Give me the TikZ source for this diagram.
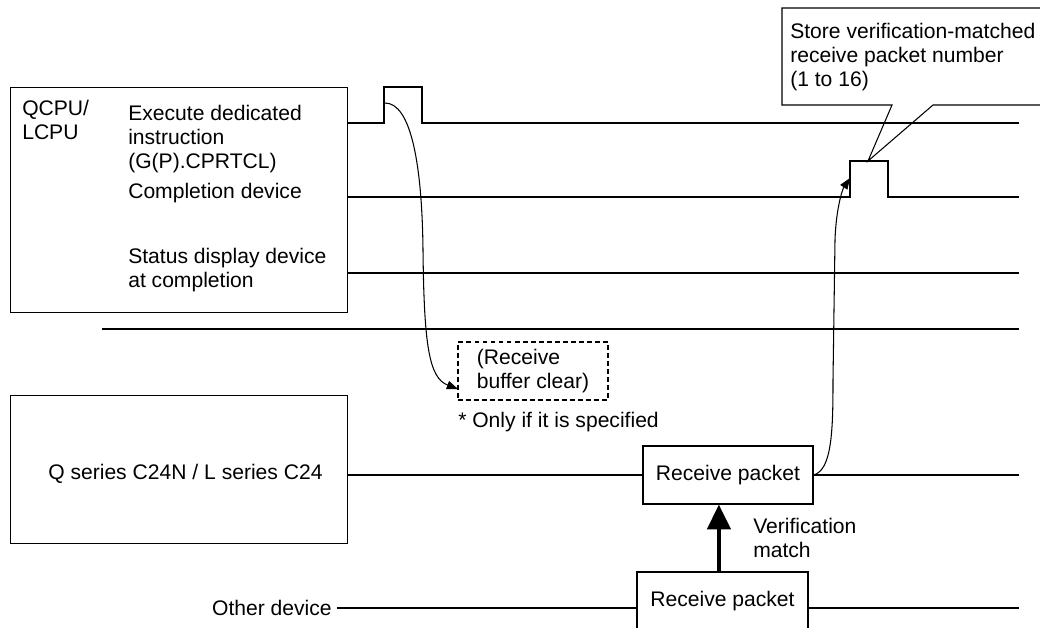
\documentclass[tikz,border=0pt]{standalone}
\usepackage{fontspec}
\setmainfont{Liberation Sans}
\usetikzlibrary{arrows.meta,positioning,calc}

\begin{document}
\begin{tikzpicture}[x=0.025cm, y=-0.025cm,
    every node/.style={font=\fontsize{15}{17}\selectfont},
    lbl/.style={inner sep=0pt, align=left, anchor=north west},
    unit/.style={draw, line width=0.8pt, anchor=north west, minimum width=8.425cm},
    pkt/.style={draw, fill=white, line width=0.8pt, minimum height=1.45cm},
    sig/.style={line width=0.75pt},
    bus/.style={line width=1.4pt},
    curvearr/.style={-{Triangle[length=2.8mm, width=2.1mm]}, line width=0.75pt},
  ]
  \useasboundingbox (0,0) rectangle (1040,627);
  \clip (0,0) rectangle (1040,627);

  % line ends on the right
  \coordinate (exend) at (1019,123);
  \coordinate (cmpend) at (1019,197);
  \coordinate (stend) at (1019,273);
  \coordinate (sepend) at (1019,329);
  \coordinate (qend) at (1019,474);
  \coordinate (othend) at (1019,608);

  % CPU side
  \node[unit, minimum height=5.625cm] (cpu) at (10,87) {};
  \node[lbl] (cpulbl) at (22,100) {QCPU/\\LCPU};
  \node[lbl] (exlbl) at (128,105) {Execute dedicated\\instruction\\(G(P).CPRTCL)};
  \node[lbl] (cmplbl) at (128,183) {Completion device};
  \node[lbl] (stlbl) at (128,248) {Status display device\\at completion};

  \draw[sig] (cpu.east |- exend) -- (384,123) |- (422,87) -- (422,123) -- (exend);
  \draw[sig] (cpu.east |- cmpend) -- (850,197) |- (888,161) -- (888,197) -- (cmpend);
  \draw[sig] (cpu.east |- stend) -- (stend);
  \draw[line width=1.6pt] (102,329) -- (sepend);

  % callout
  \draw[sig] (1060,8) -- (782,8) -- (782,105) -- (892,105) -- (868,161) -- (933,105) -- (1060,105);
  \node[lbl] (storelbl) at (790,23) {Store verification-matched\\receive packet number\\(1 to 16)};

  % receive buffer clear
  \node[draw, dashed, dash pattern=on 3.5pt off 2.2pt, line width=0.8pt, minimum width=3.75cm,
    minimum height=1.45cm, align=left] (clr) at (533,371) {(Receive\\buffer clear)};
  \node[lbl] (note) at (458,412) {* Only if it is specified};
  \coordinate (exstart) at (385,103);
  \coordinate (clrin) at (458,389);
  \draw[curvearr] (exstart) .. controls (410,103) and (422,160) .. (423,250)
    .. controls (424,345) and (429,378) .. (clrin);

  % C24 side
  \node[unit, minimum height=3.7cm] (qbox) at (10,395) {};
  \node[inner sep=0pt, anchor=base west] (qlbl) at (48,479) {Q series C24N / L series C24};
  \node[pkt, minimum width=4.25cm] (rpkt) at (728,475) {Receive packet};
  \draw[bus] (qbox.east |- rpkt.west) -- (rpkt.west);
  \draw[bus] (rpkt.east) -- (rpkt.east -| qend);

  \coordinate (cmpin) at (850,178);
  \draw[curvearr] (rpkt.east) .. controls (832,470) and (833,430) .. (833,380)
    -- (835,240) .. controls (836,210) and (842,190) .. (cmpin);

  % other device
  \node[inner sep=0pt, anchor=base east] (othlbl) at (332,615) {Other device};
  \node[pkt, minimum width=4.275cm] (rpkt2) at (722.5,601) {Receive packet};
  \coordinate (othstart) at (337,608);
  \draw[bus] (othstart) -- (rpkt2.west |- othstart);
  \draw[bus] (rpkt2.east |- othstart) -- (othend);

  \draw[-{Triangle[length=6.2mm, width=5.8mm]}, line width=2.8pt]
    ([xshift=-0.09cm]rpkt2.north) -- ([xshift=-0.09cm]rpkt2.north |- rpkt.south);
  \node[lbl] (vlbl) at (753,518) {Verification\\match};
\end{tikzpicture}
\end{document}
